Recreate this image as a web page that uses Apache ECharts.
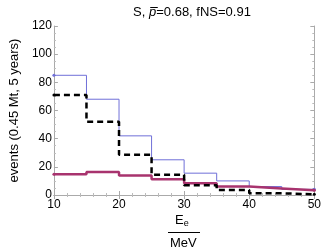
<!DOCTYPE html>
<html><head><meta charset="utf-8">
<script src="https://cdn.jsdelivr.net/npm/echarts@6/dist/echarts.min.js"></script>
<style>html,body{margin:0;padding:0;background:#fff}#c{width:324px;height:251px}</style>
</head><body><div id="c"></div>
<script>
const binEdges = [10, 15, 20, 25, 30, 35, 40, 45, 50];
const blueCounts = [85, 68, 42, 25, 15.5, 10, 6, 4];
const dashedCounts = [71, 52, 28.5, 14.3, 7, 3.5, 1.2, 0.5];
const magentaCounts = [14.8, 16.3, 13.8, 11.2, 8.3, 6, 4.7, 3.3];
const xTicks = [10, 20, 30, 40, 50];
const yTicks = [0, 20, 40, 60, 80, 100, 120];

function stepData(counts) {
  const d = counts.map((v, i) => [binEdges[i], v]);
  d.push([binEdges[binEdges.length - 1], counts[counts.length - 1]]);
  return d;
}
const font = 'Liberation Sans, Arial, sans-serif';
const chart = echarts.init(document.getElementById('c'), null, {renderer: 'canvas'});
const axisCommon = {
  axisLine: {show: true, lineStyle: {color: '#aaa', width: 1}},
  axisTick: {show: true, inside: true, length: 4, lineStyle: {color: '#aaa'}},
  minorTick: {show: true, length: 2, lineStyle: {color: '#bbb'}},
  splitLine: {show: false}
};
const endSym = (v, p) => (p.dataIndex === 0 || p.dataIndex === binEdges.length - 1) ? 3 : 0;
chart.setOption({
  animation: false,
  title: {
    text: 'S, {i|p̅}=0.68, fNS=0.91', left: 187, top: 1, textAlign: 'center',
    textStyle: {fontFamily: font, fontSize: 13, fontWeight: 'normal', color: '#000',
      rich: {i: {fontFamily: font, fontSize: 13, fontStyle: 'italic', color: '#000'}}}
  },
  grid: {left: 46, right: 6, top: 26, bottom: 56},
  xAxis: [
    Object.assign({}, axisCommon, {type: 'value', min: 10, max: 50, interval: 10,
      minorTick: {show: true, splitNumber: 5, length: 2, lineStyle: {color: '#bbb'}},
      axisLabel: {color: '#000', fontFamily: font, fontSize: 12, margin: 4,
        formatter: v => xTicks.includes(v) ? String(v) : ''}}),
    Object.assign({}, axisCommon, {type: 'value', position: 'top', min: 10, max: 50, interval: 10,
      minorTick: {show: true, splitNumber: 5, length: 2, lineStyle: {color: '#bbb'}},
      axisLabel: {show: false}})
  ],
  yAxis: [
    Object.assign({}, axisCommon, {type: 'value', min: 0, max: 120, interval: 20,
      minorTick: {show: true, splitNumber: 4, length: 2, lineStyle: {color: '#bbb'}},
      name: 'events (0.45 Mt, 5 years)', nameLocation: 'middle', nameGap: 28,
      nameTextStyle: {color: '#000', fontFamily: font, fontSize: 13},
      axisLabel: {color: '#000', fontFamily: font, fontSize: 12, margin: 2,
        formatter: v => yTicks.includes(v) ? String(v) : ''}}),
    Object.assign({}, axisCommon, {type: 'value', position: 'right', min: 0, max: 120, interval: 20,
      minorTick: {show: true, splitNumber: 4, length: 2, lineStyle: {color: '#bbb'}},
      axisLabel: {show: false}})
  ],
  graphic: [
    {type: 'text', left: 175, top: 214, style: {text: 'E{s|e}', fontFamily: font, fontSize: 13, fill: '#000',
      rich: {s: {fontFamily: font, fontSize: 9, fill: '#000', verticalAlign: 'bottom', padding: [7, 0, 0, 0]}}}},
    {type: 'line', shape: {x1: 168, y1: 232.5, x2: 200, y2: 232.5}, style: {stroke: '#000', lineWidth: 1}},
    {type: 'text', left: 170, top: 237, style: {text: 'MeV', fontFamily: font, fontSize: 13, fill: '#000'}}
  ],
  series: [
    {type: 'line', step: 'end', data: stepData(blueCounts), symbol: 'circle', symbolSize: endSym,
      itemStyle: {color: '#7070d8'}, lineStyle: {color: '#7070d8', width: 1}, z: 2},
    {type: 'line', step: 'end', data: stepData(magentaCounts), symbol: 'circle', symbolSize: endSym,
      itemStyle: {color: '#a8336e'}, lineStyle: {color: '#a8336e', width: 2.5}, z: 3},
    {type: 'line', step: 'end', data: stepData(dashedCounts), symbol: 'circle', symbolSize: endSym,
      itemStyle: {color: '#000'}, lineStyle: {color: '#000', width: 2.5, type: [6, 4]}, z: 4}
  ]
});
</script></body></html>
